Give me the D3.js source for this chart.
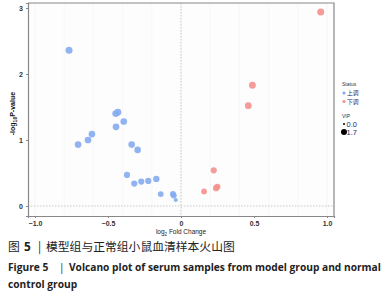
<!DOCTYPE html>
<html>
<head>
<meta charset="utf-8">
<script src="https://cdn.jsdelivr.net/npm/d3@7"></script>
<style>
  body { margin: 0; background: #fff; }
  svg { display: block; }
</style>
</head>
<body>
<div id="volcano"></div>
<script>
// data: log2 fold change, -log10 p, VIP
const upFC   = [-0.767, -0.447, -0.432, -0.392, -0.445, -0.610, -0.637, -0.705, -0.338, -0.297, -0.370, -0.320, -0.272, -0.224, -0.169, -0.139, -0.055, -0.050, -0.036];
const upP    = [2.36, 1.40, 1.42, 1.28, 1.20, 1.09, 1.00, 0.93, 0.93, 0.85, 0.47, 0.34, 0.37, 0.38, 0.41, 0.18, 0.18, 0.16, 0.09];
const upVIP  = [1.6, 1.5, 1.5, 1.4, 1.4, 1.4, 1.4, 1.4, 1.3, 1.3, 1.1, 1.1, 1.1, 1.1, 1.2, 0.9, 1.0, 1.0, 0.3];
const downFC  = [0.957, 0.489, 0.461, 0.224, 0.249, 0.240, 0.158];
const downP   = [2.94, 1.83, 1.52, 0.54, 0.29, 0.27, 0.22];
const downVIP = [1.6, 1.5, 1.4, 1.1, 1.1, 1.1, 0.9];
const statusLabels = ["上调", "下调"];
const vipLabels = [0.0, 1.7];
const xTicks = [-1.0, -0.5, 0, 0.5, 1.0];
const yTicks = [0, 1, 2, 3];

const upColor = "#85acef", downColor = "#f4918d";

const points = upFC.map((d, i) => ({ fc: d, p: upP[i], vip: upVIP[i], status: statusLabels[0] }))
  .concat(downFC.map((d, i) => ({ fc: d, p: downP[i], vip: downVIP[i], status: statusLabels[1] })));

var margin = { top: 3, right: 48, bottom: 84, left: 28 },
    width = 382 - margin.left - margin.right,
    height = 300 - margin.top - margin.bottom;

const svg = d3.select("#volcano")
  .append("svg")
    .attr("width", 382)
    .attr("height", 300)
    .style("font-family", "'Liberation Sans', Arial, sans-serif");

const g = svg.append("g")
    .attr("transform", `translate(${margin.left},${margin.top})`);

const x = d3.scaleLinear().domain([-1.048, 1.048]).range([0, width]);
const y = d3.scaleLinear().domain([-0.152, 3.076]).range([height, 0]);
const r = d3.scaleSqrt().domain([0, 1.7]).range([1, 3.6]);
const color = d3.scaleOrdinal().domain(statusLabels).range([upColor, downColor]);

// panel background + faint grid
g.append("rect")
  .attr("width", width).attr("height", height)
  .attr("fill", "#fdfdfd");
g.append("g")
  .selectAll("line")
  .data(x.ticks(10))
  .join("line")
    .attr("x1", d => x(d)).attr("x2", d => x(d))
    .attr("y1", 0).attr("y2", height)
    .attr("stroke", "#f3f3f3").attr("stroke-width", 0.6);

// reference lines at 0
g.append("line")
  .attr("x1", x(0)).attr("x2", x(0)).attr("y1", 0).attr("y2", height)
  .attr("stroke", "#c8c8c8").attr("stroke-width", 1).attr("stroke-dasharray", "1.5,1.5");
g.append("line")
  .attr("x1", 0).attr("x2", width).attr("y1", y(0)).attr("y2", y(0))
  .attr("stroke", "#c8c8c8").attr("stroke-width", 1).attr("stroke-dasharray", "1.5,1.5");

// axes
const xAxis = g.append("g")
  .attr("transform", `translate(0,${height})`)
  .call(d3.axisBottom(x).tickValues(xTicks).tickSize(2).tickFormat(d => d === 0 ? "0" : d3.format(".1f")(d).replace("-", "\u2212")));
const yAxis = g.append("g")
  .call(d3.axisLeft(y).tickValues(yTicks).tickSize(2).tickFormat(d3.format("d")));
[xAxis, yAxis].forEach(a => {
  a.select(".domain").attr("stroke", "#888").attr("stroke-width", 1.2);
  a.selectAll(".tick line").attr("stroke", "#888");
  a.selectAll("text").attr("font-size", 7).attr("font-weight", "bold").attr("fill", "#333");
});
// top and right borders
g.append("path")
  .attr("d", `M0,0H${width}V${height}`)
  .attr("fill", "none").attr("stroke", "#888").attr("stroke-width", 1.2);

// points
g.append("g")
  .selectAll("circle")
  .data(points)
  .join("circle")
    .attr("cx", d => x(d.fc))
    .attr("cy", d => y(d.p))
    .attr("r", d => r(d.vip))
    .attr("fill", d => color(d.status))
    .attr("opacity", 0.9);

// axis titles
const yt = svg.append("text")
  .attr("transform", `translate(15,${margin.top + y(1.4)}) rotate(-90)`)
  .attr("text-anchor", "middle")
  .attr("font-size", 7).attr("font-weight", "bold").attr("fill", "#111");
yt.append("tspan").text("-log");
yt.append("tspan").attr("font-size", 5).attr("dy", 2).text("10");
yt.append("tspan").attr("dy", -2).text("P-value");

const xt = svg.append("text")
  .attr("x", margin.left + x(0)).attr("y", 234)
  .attr("text-anchor", "middle")
  .attr("font-size", 6.5).attr("fill", "#222");
xt.append("tspan").text("log");
xt.append("tspan").attr("font-size", 4.5).attr("dy", 1.5).text("2");
xt.append("tspan").attr("dy", -1.5).text(" Fold Change");

// legend
const lg = svg.append("g").attr("transform", "translate(342,86)");
lg.append("text").attr("y", 0).attr("font-size", 5).attr("fill", "#333").text("Status");
statusLabels.forEach((s, i) => {
  lg.append("circle").attr("cx", 2).attr("cy", 7 + i * 8.5).attr("r", 1.6).attr("fill", color(s));
  lg.append("text").attr("x", 5).attr("y", 9.2 + i * 8.5)
    .attr("font-size", 5.8).attr("fill", "#1d2b6b")
    .style("font-family", "'Noto Sans CJK SC', sans-serif").text(s);
});
lg.append("text").attr("y", 32).attr("font-size", 5).attr("fill", "#333").text("VIP");
vipLabels.forEach((v, i) => {
  lg.append("circle").attr("cx", 2).attr("cy", 38 + i * 8).attr("r", i === 0 ? 1 : 3).attr("fill", "#000");
  lg.append("text").attr("x", 4.5).attr("y", 41 + i * 8)
    .attr("font-size", 7.5).attr("fill", "#1d2b6b").text(d3.format(".1f")(v));
});

// caption
const cap = svg.append("text")
  .attr("x", 8).attr("y", 251)
  .attr("font-size", 11.8).attr("fill", "#222")
  .style("font-family", "'Noto Sans CJK SC', sans-serif");
cap.append("tspan").text("图");
cap.append("tspan").attr("x", 24).attr("font-weight", "bold").style("font-family", "'Open Sans', sans-serif").text("5");
cap.append("tspan").attr("x", 38).text("|");
cap.append("tspan").attr("x", 46).text("模型组与正常组小鼠血清样本火山图");

const en = svg.append("text")
  .attr("y", 271)
  .attr("font-size", 10.2).attr("font-weight", "bold").attr("fill", "#222")
  .style("font-family", "'Open Sans', sans-serif");
en.append("tspan").attr("x", 8).text("Figure 5");
en.append("tspan").attr("x", 59).attr("font-weight", "normal").text("|");
en.append("tspan").attr("x", 69).text("Volcano plot of serum samples from model group and normal");
svg.append("text")
  .attr("x", 8).attr("y", 288)
  .attr("font-size", 10.2).attr("font-weight", "bold").attr("fill", "#222")
  .style("font-family", "'Open Sans', sans-serif")
  .text("control group");
</script>
</body>
</html>
